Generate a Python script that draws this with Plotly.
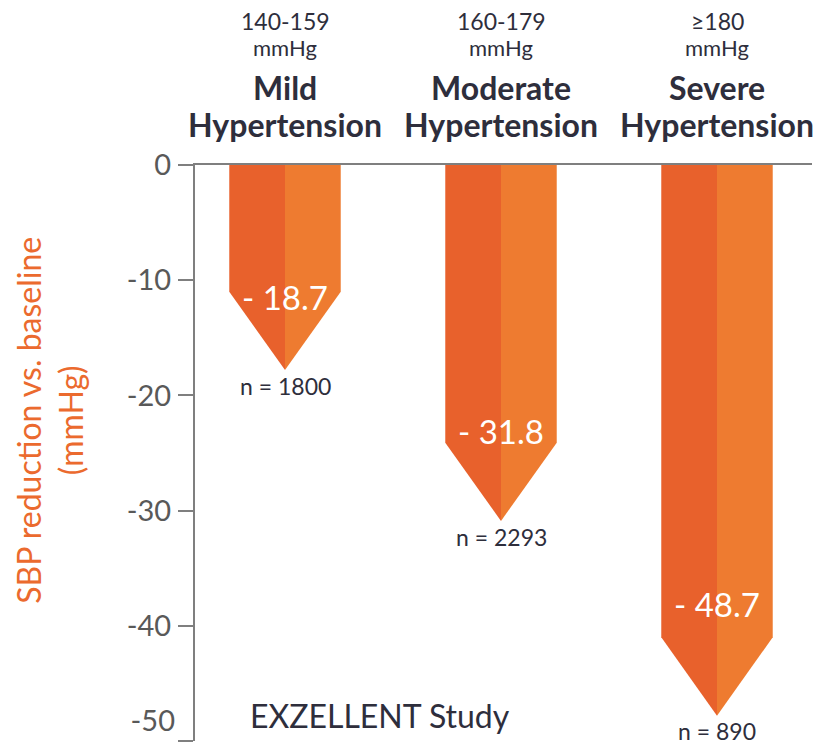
import plotly.graph_objects as go

# ---- data ----
categories = ["Mild", "Moderate", "Severe"]
bp_ranges = ["140-159", "160-179", "\u2265180"]
reductions = [-18.7, -31.8, -48.7]
n_patients = [1800, 2293, 890]
y_ticks = [0, -10, -20, -30, -40, -50]

# ---- style ----
DARK = "#E8612C"
LIGHT = "#EE7B30"
TXT = "#2E2E3C"
GRAY = "#7F7F7F"
TICK_TXT = "#595959"
FONT = "Lato"
half_w = 0.258      # arrow half width in category units
head = 6.8          # arrow head length in data units
tip_off = 0.9

OFF = 8  # page body margin
W, H = 829 - OFF, 746 - OFF + 14
ML, MT = 195 - OFF, 165 - OFF
MR = W - (812 - OFF)
MB = H - (741.5 - OFF)
plot_h = H - MT - MB
plot_w = W - ML - MR

def py(p):   # reference pixel y -> paper y
    return 1 + (MT - (p - OFF)) / plot_h

def px(p):   # reference pixel x -> paper x
    return ((p - OFF) - ML) / plot_w

fig = go.Figure()
for i, v in enumerate(reductions):
    tip = v + tip_off
    sh = tip + head
    fig.add_trace(go.Scatter(
        x=[i - half_w, i - half_w, i, i, i - half_w],
        y=[0, sh, tip, 0, 0],
        fill="toself", fillcolor=DARK, mode="lines",
        line=dict(width=0, color=DARK), hoverinfo="skip", showlegend=False))
    fig.add_trace(go.Scatter(
        x=[i, i, i + half_w, i + half_w, i],
        y=[0, tip, sh, 0, 0],
        fill="toself", fillcolor=LIGHT, mode="lines",
        line=dict(width=0, color=LIGHT), hoverinfo="skip", showlegend=False))
    fig.add_annotation(x=i, y=0.89 * v + 5.2, text=f"- {abs(v):.1f}", showarrow=False,
                       font=dict(family=FONT, size=33, color="white"),
                       xanchor="center", yanchor="middle")
    fig.add_annotation(x=i, y=v - 0.45, text=f"n = {n_patients[i]}", showarrow=False,
                       font=dict(family=FONT, size=23, color=TXT),
                       xanchor="center", yanchor="middle")

# invisible trace so the secondary y axis (for the bottom tick label) is drawn
fig.add_trace(go.Scatter(x=[0], y=[0], yaxis="y2", mode="markers",
                         marker=dict(opacity=0), hoverinfo="skip", showlegend=False))

for i, cat in enumerate(categories):
    fig.add_annotation(x=i, y=py(21), yref="paper", text=bp_ranges[i],
                       showarrow=False, font=dict(family=FONT, size=23, color=TXT),
                       xanchor="center", yanchor="middle", borderpad=0)
    fig.add_annotation(x=i, y=py(47), yref="paper", text="mmHg",
                       showarrow=False, font=dict(family=FONT, size=22, color=TXT),
                       xanchor="center", yanchor="middle")
    fig.add_annotation(x=i, y=py(87), yref="paper", text=f"<b>{cat}</b>",
                       showarrow=False, font=dict(family=FONT, size=32, color=TXT),
                       xanchor="center", yanchor="middle")
    fig.add_annotation(x=i, y=py(124), yref="paper", text="<b>Hypertension</b>",
                       showarrow=False, font=dict(family=FONT, size=32, color=TXT),
                       xanchor="center", yanchor="middle")

fig.add_annotation(x=px(380), xref="paper", y=py(716), yref="paper",
                   text="EXZELLENT Study", showarrow=False,
                   font=dict(family=FONT, size=32, color=TXT),
                   xanchor="center", yanchor="middle")

fig.add_annotation(x=px(50), xref="paper", y=py(421), yref="paper",
                   text="SBP reduction vs. baseline<br>(mmHg)", showarrow=False,
                   textangle=-90, font=dict(family=FONT, size=32, color="#EB6A2E"),
                   xanchor="center", yanchor="middle", align="center")

x_lo = (195 - 285) / 216.0
x_hi = (812 - 285) / 216.0

bottom_tick = min(y_ticks)
main_text = ["" if t == bottom_tick else str(t) for t in y_ticks]

fig.update_layout(
    width=W, height=H, autosize=False,
    margin=dict(l=ML, r=MR, t=MT, b=MB, pad=0),
    paper_bgcolor="white", plot_bgcolor="white",
    showlegend=False,
    xaxis=dict(range=[x_lo, x_hi], showgrid=False, zeroline=False,
               showticklabels=False, ticks="", side="top", automargin=False,
               showline=True, linecolor=GRAY, linewidth=2, fixedrange=True),
    yaxis=dict(range=[-50, 0], tickvals=y_ticks, ticktext=main_text,
               showgrid=False, zeroline=False, showline=True, linecolor=GRAY,
               linewidth=2, ticks="outside", ticklen=15, tickwidth=2, tickcolor=GRAY,
               tickfont=dict(family=FONT, size=29, color=TICK_TXT),
               ticklabelstandoff=1, fixedrange=True, automargin=False),
    yaxis2=dict(range=[-50, 0], overlaying="y", side="left",
                tickvals=[bottom_tick], ticktext=[str(bottom_tick)],
                showgrid=False, zeroline=False, showline=False, ticks="",
                ticklabelposition="outside top",
                tickfont=dict(family=FONT, size=29, color=TICK_TXT),
                ticklabelstandoff=19, fixedrange=True, automargin=False),
)

fig.write_html("out.html")
